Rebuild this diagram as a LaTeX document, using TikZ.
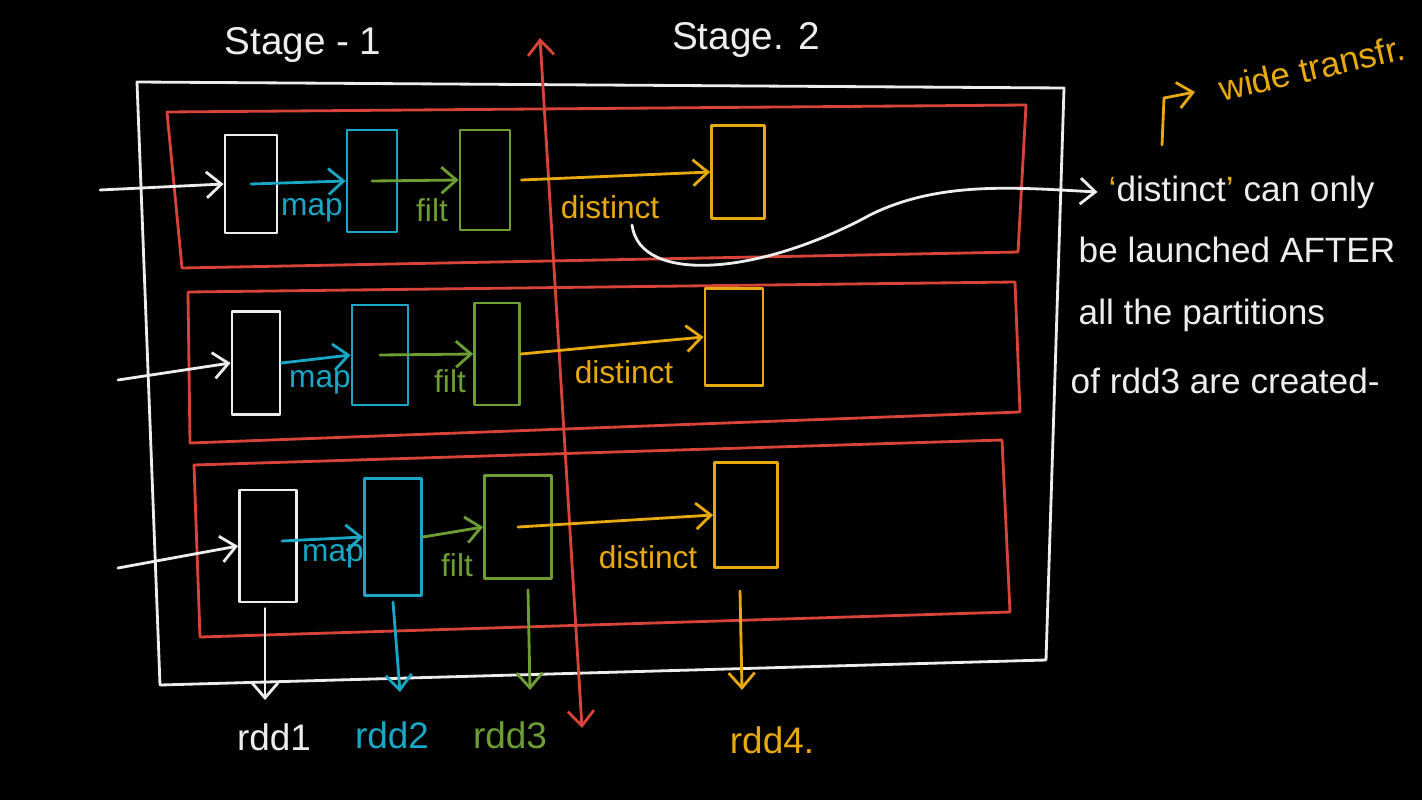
\documentclass[tikz,border=0pt]{standalone}
\usepackage{fontspec}
\setmainfont{Liberation Sans}
\usetikzlibrary{arrows.meta}
\definecolor{wh}{HTML}{EDEDED}
\definecolor{rd}{HTML}{D9443A}
\definecolor{cy}{HTML}{1AA7C6}
\definecolor{gr}{HTML}{6C9E34}
\definecolor{yl}{HTML}{E8A90E}
\begin{document}
\begin{tikzpicture}[x=0.01cm,y=-0.01cm,
  pen/.style={line width=0.8pt,line cap=round,line join=round},
  arr/.style={pen,-{Straight Barb[length=1.5mm,width=2.6mm]}},
  part/.style={pen,draw,inner sep=0pt},
  lbl/.style={font=\fontsize{9}{10}\selectfont,inner sep=1pt},
  rddl/.style={font=\fontsize{10.5}{12}\selectfont,inner sep=1pt},
  note/.style={font=\fontsize{10}{12}\selectfont,text=wh,anchor=west,inner sep=0pt}]
\useasboundingbox[fill=black] (0,0) rectangle (1422,800);
% stage labels
\node[text=wh,font=\fontsize{11}{13}\selectfont] (s1) at (303,45) {Stage - 1};
\node[text=wh,font=\fontsize{11}{13}\selectfont] (s2) at (746,40) {Stage. 2};
% outer white box
\coordinate (o1) at (137,82);
\coordinate (o2) at (1064,88);
\coordinate (o3) at (1046,660);
\coordinate (o4) at (160,685);
\draw[pen,wh] (o1) -- (o2) -- (o3) -- (o4) -- cycle;
% red partitions
\coordinate (a1) at (167,112); \coordinate (a2) at (1026,105);
\coordinate (a3) at (1018,252); \coordinate (a4) at (182,268);
\draw[pen,rd] (a1) -- (a2) -- (a3) -- (a4) -- cycle;
\coordinate (b1) at (188,292); \coordinate (b2) at (1015,282);
\coordinate (b3) at (1020,412); \coordinate (b4) at (190,443);
\draw[pen,rd] (b1) -- (b2) -- (b3) -- (b4) -- cycle;
\coordinate (c1) at (194,465); \coordinate (c2) at (1002,440);
\coordinate (c3) at (1010,612); \coordinate (c4) at (200,637);
\draw[pen,rd] (c1) -- (c2) -- (c3) -- (c4) -- cycle;
% red stage divider
\coordinate (rt) at (540,38);
\coordinate (rb) at (582,728);
\draw[pen,rd,{Straight Barb[length=1.5mm,width=2.6mm]}-{Straight Barb[length=1.5mm,width=2.6mm]}] (rt) -- (rb);
% row 1
\node[part,wh,minimum width=5.2mm,minimum height=9.8mm] (w1) at (251,184) {};
\node[part,cy,minimum width=5mm,minimum height=10.2mm] (k1) at (372,181) {};
\node[part,gr,minimum width=5mm,minimum height=10mm] (g1) at (485,180) {};
\node[part,yl,minimum width=5.3mm,minimum height=9.3mm] (y1) at (738,172) {};
\coordinate (i1) at (100,190);
\draw[arr,wh] (i1) -- (w1.west);
\draw[arr,cy] (w1.center) -- (k1.west);
\draw[arr,gr] (k1.center) -- (g1.west);
\draw[arr,yl] (g1.east) ++(10,0) -- (y1.west);
\node[lbl,text=cy] (m1) at (312,210) {map};
\node[lbl,text=gr] (f1) at (432,210) {filt};
\node[lbl,text=yl] (d1) at (610,207) {distinct};
% row 2
\node[part,wh,minimum width=4.8mm,minimum height=10.3mm] (w2) at (256,363) {};
\node[part,cy,minimum width=5.6mm,minimum height=10mm] (k2) at (380,355) {};
\node[part,gr,minimum width=4.5mm,minimum height=10.2mm] (g2) at (497,354) {};
\node[part,yl,minimum width=5.8mm,minimum height=9.7mm] (y2) at (734,337) {};
\coordinate (i2) at (118,380);
\draw[arr,wh] (i2) -- (w2.west);
\draw[arr,cy] (w2.east) -- (k2.west);
\draw[arr,gr] (k2.center) -- (g2.west);
\draw[arr,yl] (g2.east) -- (y2.west);
\node[lbl,text=cy] (m2) at (320,382) {map};
\node[lbl,text=gr] (f2) at (450,381) {filt};
\node[lbl,text=yl] (d2) at (624,372) {distinct};
% row 3
\node[part,wh,minimum width=5.7mm,minimum height=11.2mm] (w3) at (268,546) {};
\node[part,cy,minimum width=5.7mm,minimum height=11.7mm] (k3) at (393,537) {};
\node[part,gr,minimum width=6.7mm,minimum height=10.3mm] (g3) at (518,527) {};
\node[part,yl,minimum width=6.3mm,minimum height=10.5mm] (y3) at (746,515) {};
\coordinate (i3) at (118,568);
\draw[arr,wh] (i3) -- (w3.west);
\draw[arr,cy] (w3.center) ++(14,-5) -- (k3.west);
\draw[arr,gr] (k3.east) -- (g3.west);
\draw[arr,yl] (g3.center) -- (y3.west);
\node[lbl,text=cy] (m3) at (333,556) {map};
\node[lbl,text=gr] (f3) at (457,565) {filt};
\node[lbl,text=yl] (d3) at (648,557) {distinct};
% rdd labels
\node[rddl,text=wh] (r1) at (274,737) {rdd1};
\node[rddl,text=cy] (r2) at (392,735) {rdd2};
\node[rddl,text=gr] (r3) at (510,735) {rdd3};
\node[rddl,text=yl] (r4) at (772,740) {rdd4.};
\draw[arr,wh] (w3.south) ++(-3,5) -- (265,700);
\draw[arr,cy] (k3.south) ++(0,5) -- (400,692);
\draw[arr,gr] (g3.south) ++(10,10) -- (530,690);
\draw[arr,yl] (y3.south) ++(-6,22) -- (742,690);
% note text
\node[note] (t1) at (1108,192) {{\color{yl}‘}distinct{\color{yl}’} can only};
\node[note] (t2) at (1078,250) {be launched AFTER};
\node[note] (t3) at (1078,315) {all the partitions};
\node[note] (t4) at (1070,381) {of rdd3 are created-};
\coordinate (cs) at (632,225);
\draw[arr,wh] (cs) .. controls (640,285) and (760,275) .. (870,215) .. controls (940,180) and (1020,188) .. ([xshift=-3pt]t1.west);
% wide transformation note
\node[text=yl,font=\fontsize{10}{12}\selectfont,rotate=13] (wt) at (1312,68) {wide transfr.};
\coordinate (ws) at (1162,145);
\coordinate (wc) at (1164,98);
\draw[arr,yl] (ws) -- (wc) -- (1195,92);
\end{tikzpicture}
\end{document}
